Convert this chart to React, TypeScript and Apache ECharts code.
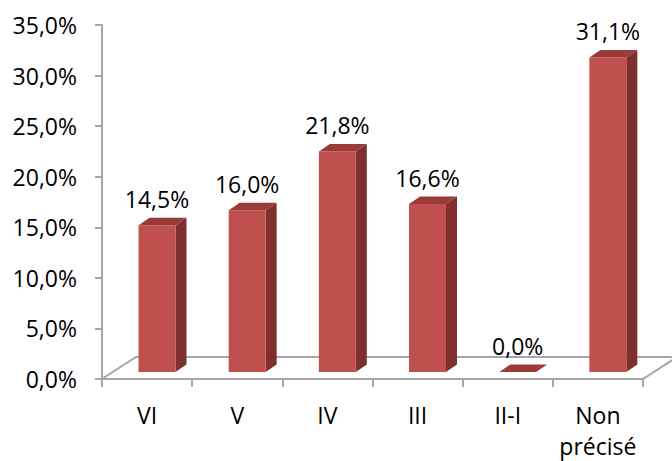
import React, { useEffect, useRef } from 'react';
import * as echarts from 'echarts';

const categories = ['VI', 'V', 'IV', 'III', 'II-I', 'Non\nprécisé'];
const values = [14.5, 16.0, 21.8, 16.6, 0.0, 31.1];
const yMin = 0;
const yMax = 35;
const yInterval = 5;

const fmt = (v: number) => v.toFixed(1).replace('.', ',') + '%';

const FRONT = '#C0504D';
const SIDE = '#7F302E';
const TOP = '#9B3B39';
const AXIS = '#A6A6A6';
const FONT = '"Open Sans", "Noto Sans", sans-serif';

export default function App() {
  const ref = useRef<HTMLDivElement>(null);
  useEffect(() => {
    if (!ref.current) return;
    const chart = echarts.init(ref.current, undefined, { renderer: 'svg' });
    chart.setOption({
      animation: false,
      backgroundColor: '#ffffff',
      grid: { left: 102, right: 29, top: 25, bottom: 80 },
      xAxis: {
        type: 'category',
        data: categories,
        boundaryGap: true,
        axisLine: { lineStyle: { color: AXIS, width: 2 } },
        axisTick: { show: true, interval: 0, length: 8, lineStyle: { color: AXIS, width: 2 } },
        axisLabel: {
          interval: 0,
          color: '#000',
          fontFamily: FONT,
          fontSize: 23,
          lineHeight: 31,
          margin: 20,
        },
        z: 1,
      },
      yAxis: {
        type: 'value',
        min: yMin,
        max: yMax,
        interval: yInterval,
        axisLine: { show: true, lineStyle: { color: AXIS, width: 2 } },
        axisTick: { show: true, length: 7, lineStyle: { color: AXIS, width: 2 } },
        splitLine: { show: false },
        axisLabel: {
          color: '#000',
          fontFamily: FONT,
          fontSize: 23,
          margin: 25,
          formatter: (v: number) => fmt(v),
        },
      },
      series: [
        {
          type: 'custom',
          silent: true,
          z: 0,
          data: [[0, 0]],
          renderItem: (params: any) => {
            const cs = params.coordSys;
            const x0 = cs.x;
            const y0 = cs.y + cs.height;
            const x1 = cs.x + cs.width;
            const ddx = 34;
            const ddy = -22;
            return {
              type: 'polygon',
              shape: {
                points: [
                  [x0, y0],
                  [x1, y0],
                  [x1 + ddx, y0 + ddy],
                  [x0 + ddx, y0 + ddy],
                ],
              },
              style: { fill: '#ffffff', stroke: AXIS, lineWidth: 2 },
            };
          },
        },
        {
          type: 'custom',
          z: 3,
          data: values.map((v, i) => [i, v]),
          encode: { x: 0, y: 1 },
          renderItem: (params: any, api: any) => {
            const i = api.value(0);
            const v = api.value(1);
            const base = api.coord([i, 0]);
            const top = api.coord([i, v]);
            const band = api.size([1, 0])[0];
            const w = band * 0.41;
            const cx = base[0] + band * 0.11;
            const lift = 7;
            const dx = 11;
            const dy = -7.5;
            const x0 = cx - w / 2;
            const x1 = cx + w / 2;
            const yb = base[1] - lift;
            const yt = top[1] - lift;
            return {
              type: 'group',
              children: [
                {
                  type: 'polygon',
                  shape: { points: [[x1, yb], [x1 + dx, yb + dy], [x1 + dx, yt + dy], [x1, yt]] },
                  style: { fill: SIDE },
                },
                {
                  type: 'rect',
                  shape: { x: x0, y: yt, width: w, height: yb - yt },
                  style: { fill: FRONT },
                },
                {
                  type: 'polygon',
                  shape: { points: [[x0, yt], [x1, yt], [x1 + dx, yt + dy], [x0 + dx, yt + dy]] },
                  style: { fill: TOP },
                },
                {
                  type: 'text',
                  x: cx,
                  y: yt + dy - 19,
                  style: {
                    text: fmt(v),
                    fill: '#000',
                    font: `23px ${FONT}`,
                    align: 'center',
                    verticalAlign: 'middle',
                  },
                },
              ],
            };
          },
        },
      ],
    });
    return () => chart.dispose();
  }, []);
  return (
    <div
      ref={ref}
      style={{ position: 'absolute', left: 0, top: 0, width: 672, height: 461 }}
    />
  );
}
